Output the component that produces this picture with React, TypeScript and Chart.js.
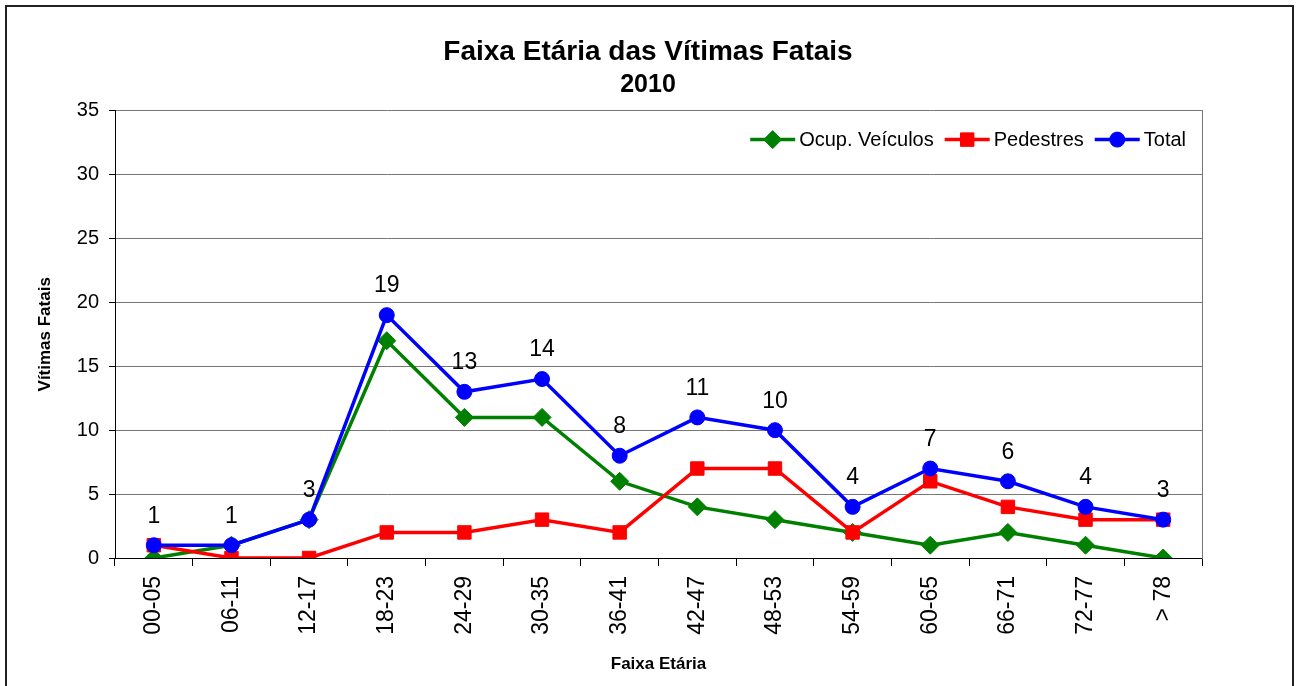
import React, { useEffect, useRef } from 'react';
import { Chart, registerables } from 'chart.js';

Chart.register(...registerables);

const FONT = "'Liberation Sans', Arial, Helvetica, sans-serif";

const categories = ['00-05', '06-11', '12-17', '18-23', '24-29', '30-35', '36-41', '42-47', '48-53', '54-59', '60-65', '66-71', '72-77', '> 78'];
const ocupVeiculos = [0, 1, 3, 17, 11, 11, 6, 4, 3, 2, 1, 2, 1, 0];
const pedestres = [1, 0, 0, 2, 2, 3, 2, 7, 7, 2, 6, 4, 3, 3];
const total = [1, 1, 3, 19, 13, 14, 8, 11, 10, 4, 7, 6, 4, 3];
const seriesNames = ['Ocup. Veículos', 'Pedestres', 'Total'];
const chartTitle = 'Faixa Etária das Vítimas Fatais';
const chartSubtitle = '2010';
const yAxisTitle = 'Vítimas Fatais';
const xAxisTitle = 'Faixa Etária';
const yMin = 0;
const yMax = 35;
const yStep = 5;

function drawMarker(ctx: CanvasRenderingContext2D, style: string, r: number, x: number, y: number, color: string) {
  ctx.save();
  ctx.fillStyle = color;
  ctx.strokeStyle = color;
  ctx.lineWidth = 1;
  ctx.beginPath();
  if (style === 'circle') {
    ctx.arc(x, y, r, 0, Math.PI * 2);
  } else if (style === 'rect') {
    const s = r * Math.SQRT1_2;
    ctx.rect(x - s, y - s, 2 * s, 2 * s);
  } else {
    ctx.moveTo(x, y - r);
    ctx.lineTo(x + r, y);
    ctx.lineTo(x, y + r);
    ctx.lineTo(x - r, y);
    ctx.closePath();
  }
  ctx.fill();
  ctx.stroke();
  ctx.restore();
}

const legendPlugin = {
  id: 'excelLegend',
  afterDraw(chart: any) {
    const { ctx, chartArea } = chart;
    ctx.save();
    ctx.font = `20px ${FONT}`;
    const dsets = chart.data.datasets;
    const lineLen = 45;
    const gapText = 4;
    const gapItem = 11;
    const widths = dsets.map((d: any) => ctx.measureText(d.label).width);
    const totalW = widths.reduce((s: number, w: number) => s + lineLen + gapText + w, 0) + gapItem * (dsets.length - 1);
    let x = chartArea.right - 16 - totalW;
    const y = chartArea.top + 29;
    dsets.forEach((d: any, i: number) => {
      ctx.strokeStyle = d.borderColor;
      ctx.lineWidth = d.borderWidth;
      ctx.beginPath();
      ctx.moveTo(x, y);
      ctx.lineTo(x + lineLen, y);
      ctx.stroke();
      drawMarker(ctx, d.pointStyle, d.pointRadius, x + lineLen / 2, y, d.borderColor);
      ctx.fillStyle = '#000';
      ctx.textAlign = 'left';
      ctx.textBaseline = 'middle';
      ctx.fillText(d.label, x + lineLen + gapText, y + 1);
      x += lineLen + gapText + widths[i] + gapItem;
    });
    ctx.restore();
  },
};

const dataLabelPlugin = {
  id: 'totalLabels',
  afterDatasetsDraw(chart: any) {
    const { ctx } = chart;
    const idx = chart.data.datasets.findIndex((d: any) => d.label === 'Total');
    if (idx < 0) return;
    const meta = chart.getDatasetMeta(idx);
    const values = chart.data.datasets[idx].data;
    ctx.save();
    ctx.font = `23px ${FONT}`;
    ctx.fillStyle = '#000';
    ctx.textAlign = 'center';
    ctx.textBaseline = 'middle';
    meta.data.forEach((pt: any, i: number) => {
      ctx.fillText(String(values[i]), pt.x, pt.y - 29);
    });
    ctx.restore();
  },
};

export default function App() {
  const canvasRef = useRef<HTMLCanvasElement | null>(null);

  useEffect(() => {
    if (!canvasRef.current) return;
    Chart.defaults.color = '#000';
    Chart.defaults.font.family = FONT;
    const chart = new Chart(canvasRef.current, {
      type: 'line',
      data: {
        labels: categories,
        datasets: [
          {
            label: seriesNames[0],
            data: ocupVeiculos,
            borderColor: '#008000',
            backgroundColor: '#008000',
            borderWidth: 3.5,
            pointStyle: 'rectRot',
            pointRadius: 9,
            pointHoverRadius: 9,
            pointBorderWidth: 1,
            tension: 0,
            order: 3,
          },
          {
            label: seriesNames[1],
            data: pedestres,
            borderColor: '#FF0000',
            backgroundColor: '#FF0000',
            borderWidth: 3.5,
            pointStyle: 'rect',
            pointRadius: 9.5,
            pointHoverRadius: 9.5,
            pointBorderWidth: 1,
            tension: 0,
            order: 2,
          },
          {
            label: seriesNames[2],
            data: total,
            borderColor: '#0000FF',
            backgroundColor: '#0000FF',
            borderWidth: 3.5,
            pointStyle: 'circle',
            pointRadius: 7.5,
            pointHoverRadius: 7.5,
            pointBorderWidth: 1,
            tension: 0,
            order: 1,
          },
        ],
      },
      options: {
        responsive: false,
        animation: false,
        events: [],
        layout: { padding: 0 },
        plugins: {
          legend: { display: false },
          tooltip: { enabled: false },
          title: {
            display: true,
            text: chartTitle,
            color: '#000',
            font: { size: 28, weight: 'bold', family: FONT },
            padding: { top: 35, bottom: 2 },
          },
          subtitle: {
            display: true,
            text: chartSubtitle,
            color: '#000',
            font: { size: 25, weight: 'bold', family: FONT },
            padding: { top: 0, bottom: 10 },
          },
        },
        scales: {
          x: {
            type: 'category',
            offset: true,
            grid: {
              display: true,
              offset: true,
              drawOnChartArea: false,
              drawTicks: true,
              tickLength: 8,
              tickColor: '#000',
              tickWidth: 1,
            },
            border: { display: true, color: '#000', width: 1 },
            ticks: {
              autoSkip: false,
              maxRotation: 90,
              minRotation: 90,
              padding: 10,
              color: '#000',
              font: { size: 23, family: FONT },
            },
            title: {
              display: true,
              text: xAxisTitle,
              color: '#000',
              font: { size: 17, weight: 'bold', family: FONT },
              padding: { top: 0, bottom: 11 },
            },
            afterFit: (scale: any) => {
              scale.height = 128;
            },
          },
          y: {
            min: yMin,
            max: yMax,
            position: 'left',
            grid: {
              color: '#777777',
              lineWidth: 1,
              drawTicks: true,
              tickLength: 6,
              tickColor: '#000',
            },
            border: { display: true, color: '#000', width: 1 },
            ticks: {
              stepSize: yStep,
              padding: 10,
              color: '#000',
              font: { size: 20, family: FONT },
            },
            title: {
              display: true,
              text: yAxisTitle,
              color: '#000',
              font: { size: 17, weight: 'bold', family: FONT },
              padding: { top: 35, bottom: 0 },
            },
            afterFit: (scale: any) => {
              scale.width = 115;
            },
          },
          yRight: {
            position: 'right',
            min: yMin,
            max: yMax,
            grid: { drawOnChartArea: false, drawTicks: false },
            border: { display: true, color: '#777777', width: 1 },
            ticks: { display: false },
            afterFit: (scale: any) => {
              scale.width = 94;
            },
          },
        },
      },
      plugins: [dataLabelPlugin, legendPlugin],
    } as any);
    return () => chart.destroy();
  }, []);

  return (
    <div style={{ position: 'absolute', left: 0, top: 0, width: 1296, height: 686, overflow: 'hidden', background: '#fff' }}>
      <div
        style={{
          position: 'absolute',
          left: 5,
          top: 5,
          width: 1285,
          height: 720,
          border: '2px solid #222',
          boxSizing: 'content-box',
        }}
      />
      <canvas ref={canvasRef} width={1296} height={686} style={{ position: 'absolute', left: 0, top: 0, width: 1296, height: 686 }} />
    </div>
  );
}
